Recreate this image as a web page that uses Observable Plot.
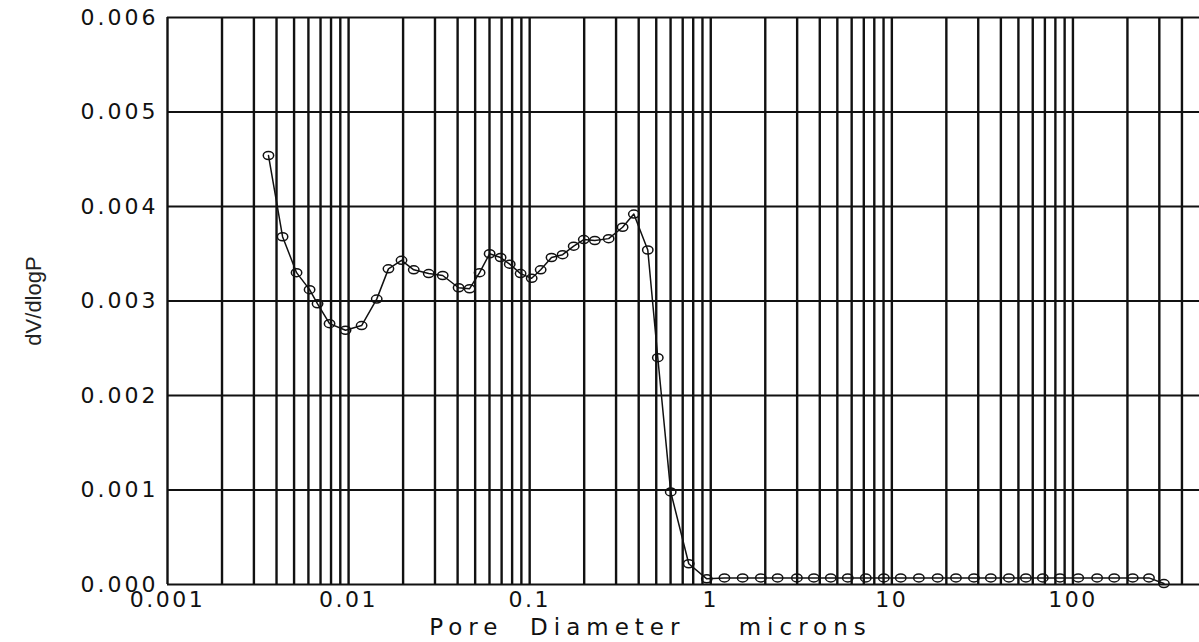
<!DOCTYPE html>
<html>
<head>
<meta charset="utf-8">
<script src="https://cdn.jsdelivr.net/npm/d3@7"></script>
<script src="https://cdn.jsdelivr.net/npm/@observablehq/plot@0.6"></script>
<style>
  html, body { margin: 0; padding: 0; background: #fff; }
  svg g[aria-label="y-axis tick label"] text { letter-spacing: 3px; font-size: 22px; }
  svg g[aria-label="x-axis tick label"] text { letter-spacing: 2.5px; font-size: 22px; }
</style>
</head>
<body>
<div id="chart"></div>
<script>
// Pore diameter (microns)
const poreDiameter = [0.00361,0.00432,0.00516,0.00609,0.00674,0.00785,0.00962,0.0118,0.0143,0.0166,
  0.0196,0.0229,0.0277,0.0331,0.0405,0.0466,0.0529,0.0601,0.0691,0.0776,
  0.0891,0.1026,0.115,0.132,0.152,0.175,0.199,0.229,0.273,0.326,
  0.376,0.449,0.510,0.601,0.756,0.951,1.19,1.50,1.89,2.34,
  2.99,3.71,4.60,5.71,7.18,9.03,11.2,14.1,17.9,22.6,
  28.4,35.2,44.3,55.0,68.2,84.8,107,136,169,214,
  263,318];
// dV/dlogP
const dVdlogP = [0.00454,0.00368,0.00330,0.00312,0.00297,0.00276,0.00269,0.00274,0.00302,0.00334,
  0.00343,0.00333,0.00329,0.00327,0.00314,0.00313,0.00330,0.00350,0.00346,0.00339,
  0.00329,0.00324,0.00333,0.00346,0.00349,0.00358,0.00365,0.00364,0.00366,0.00378,
  0.00392,0.00354,0.00240,0.00098,0.00022,0.00006,0.00007,0.00007,0.00007,0.00007,
  0.00007,0.00007,0.00007,0.00007,0.00007,0.00007,0.00007,0.00007,0.00007,0.00007,
  0.00007,0.00007,0.00007,0.00007,0.00007,0.00007,0.00007,0.00007,0.00007,0.00007,
  0.00007,0.00001];

const xTickValues = [0.001, 0.01, 0.1, 1, 10, 100];
const xTickLabels = ["0.001", "0.01", "0.1", "1", "10", "100"];
const yTickValues = [0, 0.001, 0.002, 0.003, 0.004, 0.005, 0.006];
const yTickLabels = ["0.000", "0.001", "0.002", "0.003", "0.004", "0.005", "0.006"];
const xDomain = [0.001, 500];
const yDomain = [0, 0.006];
const xTitle = "Pore\u00A0\u00A0Diameter\u00A0\u00A0\u00A0\u00A0microns";
const yTitle = "dV/dlogP";

const data = poreDiameter.map((d, i) => ({x: d, y: dVdlogP[i]}));

const labelFor = (values, labels) => d => {
  let best = 0;
  values.forEach((v, i) => { if (Math.abs(v - d) < Math.abs(values[best] - d)) best = i; });
  return labels[best];
};

// log grid: 1..9 x each decade inside the domain
const gridX = [];
for (let e = -3; e <= 2; e++) {
  for (let k = 1; k <= 9; k++) {
    const v = k * Math.pow(10, e);
    if (v >= xDomain[0] && v < xDomain[1]) gridX.push(+v.toPrecision(3));
  }
}

const ellipse = {
  draw(ctx) {
    const rx = 5.2, ry = 4, c = 0.5523;
    const kx = rx * c, ky = ry * c;
    ctx.moveTo(rx, 0);
    ctx.bezierCurveTo(rx, ky, kx, ry, 0, ry);
    ctx.bezierCurveTo(-kx, ry, -rx, ky, -rx, 0);
    ctx.bezierCurveTo(-rx, -ky, -kx, -ry, 0, -ry);
    ctx.bezierCurveTo(kx, -ry, rx, -ky, rx, 0);
    ctx.closePath();
  }
};

const chart = Plot.plot({
  width: 1199,
  height: 642,
  marginTop: 17,
  marginBottom: 58,
  marginLeft: 167,
  marginRight: 0,
  style: {fontFamily: "DejaVu Sans", fontSize: "21px", color: "#111", background: "#fff"},
  x: {type: "log", domain: xDomain},
  y: {domain: yDomain},
  marks: [
    Plot.ruleX(gridX, {stroke: "#111", strokeWidth: 2.4}),
    Plot.ruleY(yTickValues, {stroke: "#111", strokeWidth: 1.8}),
    Plot.line(data, {x: "x", y: "y", stroke: "#111", strokeWidth: 1.5}),
    Plot.dot(data, {x: "x", y: "y", symbol: ellipse, stroke: "#111", strokeWidth: 1.5, fill: "none"}),
    Plot.axisY({ticks: yTickValues, tickFormat: labelFor(yTickValues, yTickLabels), tickSize: 0, tickPadding: 9, label: null}),
    Plot.axisX({ticks: xTickValues, tickFormat: labelFor(xTickValues, xTickLabels), tickSize: 0, tickPadding: 7, label: null}),
    Plot.text([xTitle], {frameAnchor: "bottom", dx: -33, dy: 50, fontSize: 23, fontFamily: "DejaVu Sans", fill: "#111", text: d => d}),
    Plot.text([yTitle], {frameAnchor: "left", textAnchor: "middle", rotate: -90, dx: -134, fontSize: 22, fontFamily: "Liberation Sans", fill: "#222", text: d => d})
  ]
});
// widen the letter spacing of the x-axis title like the plotter font
d3.select(chart).selectAll("text")
  .filter(function() { return this.textContent === xTitle; })
  .style("letter-spacing", "6px");
document.getElementById("chart").appendChild(chart);
</script>
</body>
</html>
